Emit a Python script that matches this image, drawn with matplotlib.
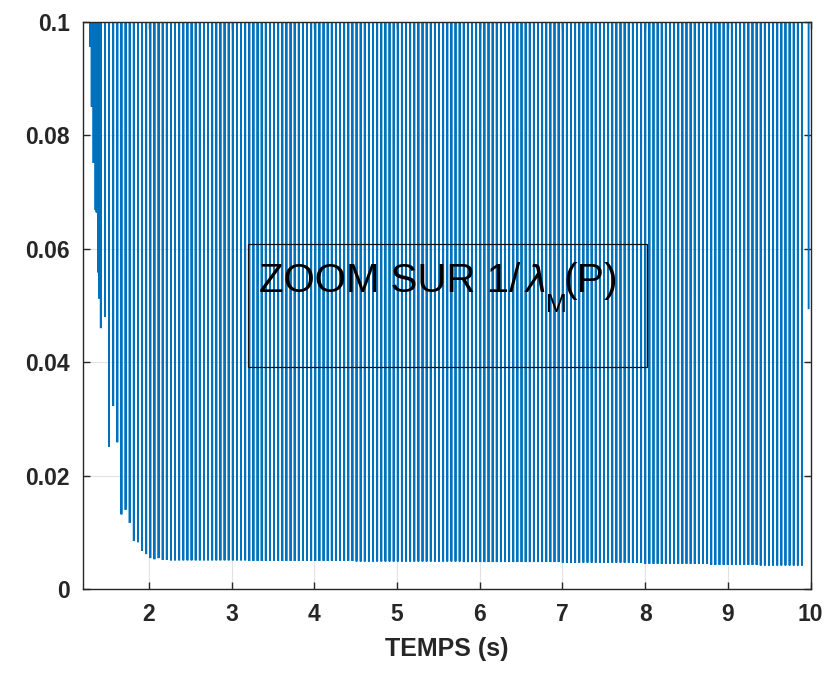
import numpy as np
import matplotlib
matplotlib.use("Agg")
import matplotlib.pyplot as plt
from matplotlib.patches import Rectangle

plt.rcParams['font.family'] = ['Liberation Sans', 'DejaVu Sans']

# --- donnees ---
# creux tres rapproches au tout debut (bloc plein)
t_debut = [1.290, 1.302, 1.310, 1.320, 1.332, 1.344, 1.356, 1.368, 1.378, 1.389, 1.402]
min_debut = [0.0956, 0.0956, 0.0850, 0.0890, 0.0751, 0.0751, 0.0668, 0.0664, 0.0664, 0.0558, 0.0512]

# creux reguliers (environ 20 par seconde)
t0_creux = 1.42
periode = 0.04985
n_creux = 171
min_transitoire = [0.0460, 0.0480, 0.0251, 0.0323, 0.0259, 0.0132, 0.0140, 0.0117,
                   0.0085, 0.0083, 0.0068, 0.0062, 0.0055, 0.0053, 0.0055, 0.0052, 0.0052]
# palier : (valeur du creux, nombre de creux)
paliers = [(0.0051, 19), (0.0050, 26), (0.0049, 26), (0.0048, 24),
           (0.0047, 20), (0.0045, 16), (0.0043, 12), (0.0042, 11)]
t_fin, y_fin = 9.975, 0.0495

haut = 1.0  # valeur hors cadre entre deux creux

xticks = [2, 3, 4, 5, 6, 7, 8, 9, 10]
yticks = [0, 0.02, 0.04, 0.06, 0.08, 0.1]
ylabels = ['0', '0.02', '0.04', '0.06', '0.08', '0.1']

# --- construction du signal ---
t_reg = t0_creux + periode * np.arange(n_creux)
min_reg = np.concatenate([min_transitoire,
                          np.repeat([p[0] for p in paliers], [p[1] for p in paliers])])
t_all = np.concatenate([t_debut, t_reg])
m_all = np.concatenate([min_debut, min_reg])

d = 0.0008
xs, ys = [], []
for t, m in zip(t_all, m_all):
    xs += [t - d, t, t + d]
    ys += [haut, m, haut]
xs += [t_fin - 0.004, t_fin]
ys += [haut, y_fin]

# --- figure ---
fig = plt.figure(figsize=(8.32, 6.79), dpi=100)
ax = fig.add_axes([0.0993, 0.1321, 0.8751, 0.8362])

ax.plot(xs, ys, color='#0072BD', lw=1.35, solid_joinstyle='miter')
ax.set_xlim(1.2, 10)
ax.set_ylim(0, 0.1)
ax.set_xticks(xticks)
ax.set_xticklabels([str(v) for v in xticks])
ax.set_yticks(yticks)
ax.set_yticklabels(ylabels)

ax.grid(True, color='#262626', alpha=0.13, lw=0.8)
ax.set_axisbelow(True)
for s in ax.spines.values():
    s.set_color('#262626')
    s.set_linewidth(1.0)
ax.tick_params(direction='in', length=5, width=1.0, colors='#262626',
               labelsize=16.5, top=True, right=True)
ax.tick_params(axis='x', pad=10)
ax.tick_params(axis='y', pad=9)
for lab in ax.get_xticklabels() + ax.get_yticklabels():
    lab.set_fontweight('bold')

ax.set_xlabel('TEMPS (s)', fontsize=18, fontweight='bold', color='#262626', labelpad=8)

# annotation encadree
fig.patches.append(Rectangle((0.2984, 0.4591), 0.4796, 0.1815, transform=fig.transFigure,
                             fill=False, edgecolor='#111111', lw=0.9, zorder=5))
fig.text(259 / 832, 1 - 291.7 / 679, 'ZOOM SUR 1/', fontsize=29, va='baseline', ha='left')
fig.text(524 / 832, 1 - 291.7 / 679, r'$\lambda$', fontsize=27, va='baseline', ha='left')
fig.text(546 / 832, 1 - 312 / 679, 'M', fontsize=18, va='baseline', ha='left')
fig.text(564 / 832, 1 - 291.7 / 679, '(P)', fontsize=29.5, va='baseline', ha='left')

fig.savefig('out.png', dpi=100)
